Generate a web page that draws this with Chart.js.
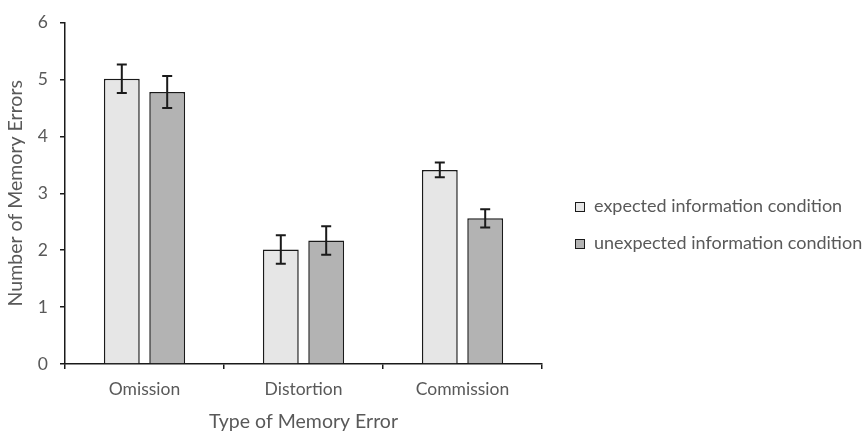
<!DOCTYPE html>
<html>
<head>
<meta charset="utf-8">
<script src="https://cdn.jsdelivr.net/npm/chart.js@4.4.1/dist/chart.umd.min.js"></script>
<style>
  html, body { margin: 0; padding: 0; background: #fff; }
  #wrap { position: relative; width: 863px; height: 431px; overflow: hidden; }
  #legend { position: absolute; left: 575px; top: 194px; font-family: Lato, sans-serif; font-size: 18px; color: #595959; white-space: nowrap; }
  #legend div { height: 37px; display: flex; align-items: flex-start; }
  #legend span.box { display: inline-block; width: 8px; height: 8px; border: 1.5px solid #1a1a1a; margin: 8px 9px 0 0; }
</style>
</head>
<body>
<div id="wrap">
  <canvas id="errChart" width="863" height="431"></canvas>
  <div id="legend"></div>
</div>
<script>
// Memory errors by type and condition
const categories = ['Omission', 'Distortion', 'Commission'];
const seriesNames = ['expected information condition', 'unexpected information condition'];
const expectedVals = [5.01, 2.01, 3.41];
const unexpectedVals = [4.78, 2.17, 2.56];
const expectedErr = [0.25, 0.25, 0.13];
const unexpectedErr = [0.28, 0.25, 0.16];
const yTicks = [0, 1, 2, 3, 4, 5, 6];

const fills = ['#e6e6e6', '#b3b3b3'];
const txt = '#595959';

// draw error bars over each bar
const errorBars = {
  id: 'errorBars',
  afterDatasetsDraw(chart) {
    const ctx = chart.ctx;
    const y = chart.scales.y;
    const errs = [expectedErr, unexpectedErr];
    ctx.save();
    ctx.strokeStyle = '#1a1a1a';
    ctx.lineWidth = 2;
    chart.data.datasets.forEach((ds, i) => {
      chart.getDatasetMeta(i).data.forEach((bar, j) => {
        const v = ds.data[j], e = errs[i][j];
        const top = y.getPixelForValue(v + e), bot = y.getPixelForValue(v - e);
        ctx.beginPath();
        ctx.moveTo(bar.x, top); ctx.lineTo(bar.x, bot);
        ctx.moveTo(bar.x - 5, top); ctx.lineTo(bar.x + 5, top);
        ctx.moveTo(bar.x - 5, bot); ctx.lineTo(bar.x + 5, bot);
        ctx.stroke();
      });
    });
    ctx.restore();
  }
};

const chart = new Chart(document.getElementById('errChart'), {
  type: 'bar',
  data: {
    labels: categories,
    datasets: [
      { label: seriesNames[0], data: expectedVals, backgroundColor: fills[0], borderColor: '#1a1a1a', borderWidth: 1.5 },
      { label: seriesNames[1], data: unexpectedVals, backgroundColor: fills[1], borderColor: '#1a1a1a', borderWidth: 1.5 }
    ]
  },
  options: {
    responsive: false,
    animation: false,
    categoryPercentage: 0.571,
    barPercentage: 0.79,
    layout: { padding: { left: 4, top: 15, right: 321, bottom: 0 } },
    plugins: { legend: { display: false }, tooltip: { enabled: false } },
    scales: {
      x: {
        grid: { display: true, drawOnChartArea: false, drawTicks: true, tickLength: 5, tickColor: '#1a1a1a', lineWidth: 1.5 },
        border: { color: '#1a1a1a', width: 1.5 },
        ticks: { color: txt, font: { family: 'Lato', size: 17.5 }, padding: 10 },
        title: { display: true, text: 'Type of Memory Error', color: txt, font: { family: 'Lato', size: 19.5, lineHeight: 1.0 }, padding: { top: 4, bottom: 0 } },
        afterFit: (s) => { s.height = 67; }
      },
      y: {
        min: 0, max: 6,
        afterBuildTicks: (s) => { s.ticks = yTicks.map(v => ({ value: v })); },
        grid: { display: true, drawOnChartArea: false, drawTicks: true, tickLength: 5, tickColor: '#1a1a1a', lineWidth: 1.5 },
        border: { color: '#1a1a1a', width: 1.5 },
        ticks: { color: txt, font: { family: 'Lato', size: 17.5 }, padding: 12 },
        title: { display: true, text: 'Number of Memory Errors', color: txt, font: { family: 'Lato', size: 19.5 }, padding: { top: 0, bottom: 4 } },
        afterFit: (s) => { s.width = 61; }
      }
    }
  },
  plugins: [errorBars]
});

// legend built from the datasets
const lg = document.getElementById('legend');
chart.data.datasets.forEach((ds) => {
  const row = document.createElement('div');
  row.innerHTML = '<span class="box" style="background:' + ds.backgroundColor + '"></span>' + ds.label;
  lg.appendChild(row);
});
</script>
</body>
</html>
